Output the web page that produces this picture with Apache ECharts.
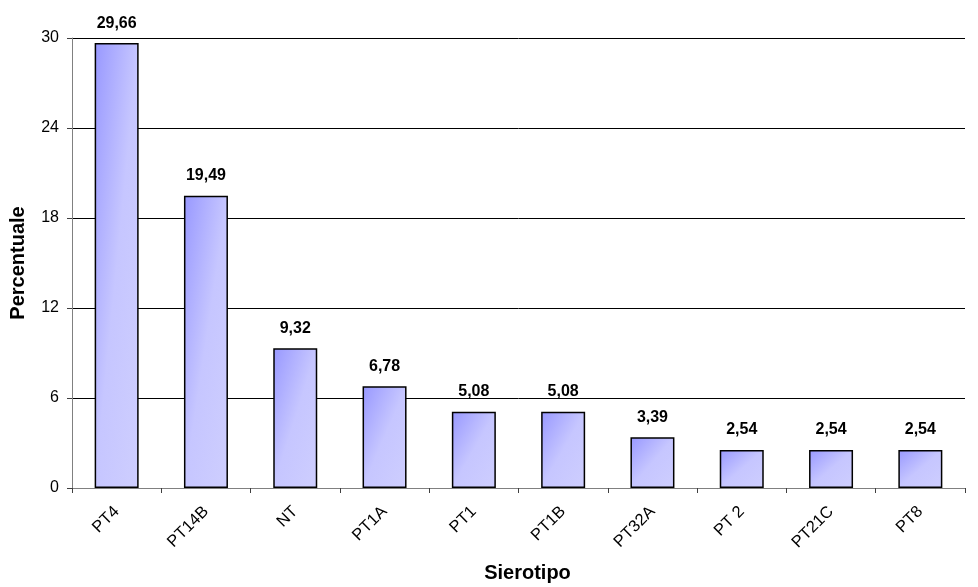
<!DOCTYPE html>
<html>
<head>
<meta charset="utf-8">
<script src="https://cdn.jsdelivr.net/npm/echarts@6/dist/echarts.min.js"></script>
<style>
html,body{margin:0;padding:0;background:#fff;}
#chart{width:978px;height:587px;}
</style>
</head>
<body>
<div id="chart"></div>
<script>
// Serotype distribution (%)
const categories = ['PT4', 'PT14B', 'NT', 'PT1A', 'PT1', 'PT1B', 'PT32A', 'PT 2', 'PT21C', 'PT8'];
const percentages = [29.66, 19.49, 9.32, 6.78, 5.08, 5.08, 3.39, 2.54, 2.54, 2.54];
const yTicks = { min: 0, max: 30, interval: 6 };

const font = 'Arial, "Liberation Sans", sans-serif';
const W = 978, H = 587;
const GRID = { left: 72, right: 13, top: 38, bottom: 99 };
const BAR_W = 44;
const plotH = H - GRID.top - GRID.bottom;

// Corner-style fill: the gradient runs along the bar's own diagonal,
// so every bar is darkest in its top-left corner whatever its height.
function cornerFill(value) {
  const w = BAR_W;
  const h = Math.max(1, value / yTicks.max * plotH);
  const a = 2 / (1 / (w * w) + 1 / (h * h));
  return new echarts.graphic.LinearGradient(0, 0, a / (w * w), a / (h * h), [
    { offset: 0, color: '#9898ff' },
    { offset: 0.5, color: '#c6c6ff' },
    { offset: 1, color: '#cecefe' }
  ]);
}

const chart = echarts.init(document.getElementById('chart'));
chart.setOption({
  animation: false,
  backgroundColor: '#ffffff',
  grid: Object.assign({ containLabel: false, outerBoundsMode: 'none' }, GRID),
  xAxis: {
    type: 'category',
    data: categories,
    boundaryGap: true,
    name: 'Sierotipo',
    nameLocation: 'middle',
    nameGap: 75,
    nameTextStyle: { fontFamily: font, fontSize: 20, fontWeight: 'bold', color: '#000', padding: [0, 0, 0, 18] },
    axisLine: { lineStyle: { color: '#808080', width: 1 } },
    axisTick: { show: true, length: 5, lineStyle: { color: '#404040' } },
    axisLabel: { rotate: 45, fontFamily: font, fontSize: 16.5, color: '#000', margin: 21, interval: 0 }
  },
  yAxis: {
    type: 'value',
    min: yTicks.min,
    max: yTicks.max,
    interval: yTicks.interval,
    name: 'Percentuale',
    nameLocation: 'middle',
    nameGap: 44,
    nameTextStyle: { fontFamily: font, fontSize: 20, fontWeight: 'bold', color: '#000' },
    axisLine: { show: true, lineStyle: { color: '#808080', width: 1 } },
    axisTick: { show: true, length: 5, lineStyle: { color: '#404040' } },
    axisLabel: { fontFamily: font, fontSize: 16, color: '#000', margin: 13 },
    splitLine: { show: true, lineStyle: { color: '#000', width: 1 } }
  },
  series: [{
    type: 'bar',
    data: percentages,
    barWidth: BAR_W,
    itemStyle: {
      color: p => cornerFill(p.value),
      borderColor: '#000',
      borderWidth: 1.5
    },
    label: {
      show: true,
      position: 'top',
      distance: 12,
      fontFamily: font,
      fontSize: 16,
      fontWeight: 'bold',
      color: '#000',
      formatter: p => p.value.toFixed(2).replace('.', ',')
    }
  }]
});
</script>
</body>
</html>
